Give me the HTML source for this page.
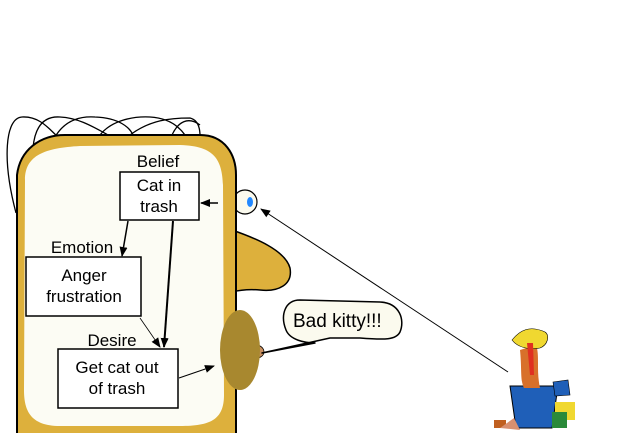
<!DOCTYPE html>
<html><head><style>
html,body{margin:0;padding:0;background:#fff;width:640px;height:433px;overflow:hidden}
svg{display:block}
text{font-family:"Comic Sans MS","Liberation Sans",sans-serif;fill:#000}
</style></head><body>
<svg width="640" height="433" viewBox="0 0 640 433" xmlns="http://www.w3.org/2000/svg">
<defs>
<marker id="a" markerWidth="10" markerHeight="8" refX="9" refY="4" orient="auto" markerUnits="userSpaceOnUse"><path d="M0,0 L10,4 L0,8 z" fill="#000"/></marker>
</defs>
<!-- hair -->
<g fill="none" stroke="#000" stroke-width="1.3">
<path d="M16,213 C2,160 5,118 22,117 C40,116 50,130 57,136"/>
<path d="M33,148 C35,125 45,116 60,117 C80,118 95,128 110,136"/>
<path d="M55,137 C65,120 80,116 95,117 C120,118 130,128 133,135"/>
<path d="M100,135 C110,122 130,116 150,117 C170,118 180,128 185,135"/>
<path d="M130,135 C150,120 170,118 190,118 C198,120 200,128 200,136"/>
<path d="M172,135 C178,122 188,116 200,125"/>
</g>
<!-- nose -->
<path d="M232,230 C255,238 285,250 290,268 C293,285 278,292 260,290 C248,289 240,290 232,292 Z" fill="#ddb03c" stroke="#000" stroke-width="1.5"/>
<!-- eye -->
<circle cx="245" cy="202" r="12" fill="#fbfaee" stroke="#000" stroke-width="1.2"/>
<ellipse cx="250" cy="202" rx="3" ry="5" fill="#2288ff"/>
<!-- head -->
<path d="M17,440 L17,175 C20,150 40,135 65,135 L200,135 C225,135 236,155 236,175 L236,440 Z" fill="#ddb03c" stroke="#000" stroke-width="2"/>
<path d="M25,180 C25,155 45,148 80,146 L180,145 C215,146 222,160 223,185 L224,395 C224,420 210,426 180,426 L60,426 C30,426 24,410 24,390 Z" fill="#fcfcf4"/>
<!-- mouth -->
<path d="M258,345 C266,348 266,356 258,358 Z" fill="#c89060" stroke="#000" stroke-width="0.8"/>
<ellipse cx="240" cy="350" rx="20" ry="40" fill="#a8882f"/>
<!-- speech bubble -->
<path d="M262,353 L315,343 C305,343 290,340 286,330 C280,315 285,300 300,300 L380,302 C400,303 405,320 400,332 C396,340 385,340 360,338 L330,338 Z" fill="#fbfaee" stroke="#000" stroke-width="1.5" stroke-linejoin="round"/>
<text x="293" y="327" font-size="19">Bad kitty!!!</text>
<!-- long arrow to eye -->
<line x1="508" y1="372" x2="261" y2="209" stroke="#000" stroke-width="1" marker-end="url(#a)"/>
<!-- boxes -->
<g fill="#fff" stroke="#000" stroke-width="1.5">
<rect x="120" y="172" width="79" height="48"/>
<rect x="26" y="257" width="115" height="59"/>
<rect x="58" y="349" width="120" height="59"/>
</g>
<g font-size="17" text-anchor="middle">
<text x="158" y="167">Belief</text>
<text x="159" y="191">Cat in</text>
<text x="159" y="212">trash</text>
<text x="82" y="253">Emotion</text>
<text x="84" y="281">Anger</text>
<text x="84" y="302">frustration</text>
<text x="112" y="346">Desire</text>
<text x="117" y="373">Get cat out</text>
<text x="117" y="394">of trash</text>
</g>
<g stroke="#000" fill="none">
<line x1="218" y1="203" x2="201" y2="203" stroke-width="1.5" marker-end="url(#a)"/>
<line x1="128" y1="221" x2="122" y2="256" stroke-width="1.5" marker-end="url(#a)"/>
<line x1="173" y1="221" x2="164" y2="347" stroke-width="2" marker-end="url(#a)"/>
<line x1="140" y1="318" x2="160" y2="347" stroke-width="0.8" marker-end="url(#a)"/>
<line x1="179" y1="378" x2="214" y2="366" stroke-width="1" marker-end="url(#a)"/>
</g>
<!-- cat in trash (simplified) -->
<g>
<path d="M510,386 L558,386 L552,428 L516,428 Z" fill="#1f5fb8" stroke="#000" stroke-width="1"/>
<path d="M520,350 C522,370 520,380 524,388 L540,388 C536,370 540,355 536,345 Z" fill="#d8702a"/>
<path d="M512,340 C520,330 530,325 545,332 C550,335 548,345 540,348 C530,350 518,348 512,340 Z" fill="#f0d830" stroke="#000" stroke-width="0.6"/>
<path d="M527,343 L530,375 L534,375 L533,343 Z" fill="#e03020"/>
<path d="M553,382 L568,380 L570,395 L555,396 Z" fill="#1f5fb8" stroke="#000" stroke-width="0.6"/>
<rect x="555" y="402" width="20" height="18" fill="#f0d830"/>
<rect x="552" y="412" width="15" height="16" fill="#2a8a3a"/>
<rect x="494" y="420" width="12" height="8" fill="#c06020"/>
<path d="M500,428 L514,418 L520,430 Z" fill="#d89070"/>
</g>
</svg>
</body></html>
